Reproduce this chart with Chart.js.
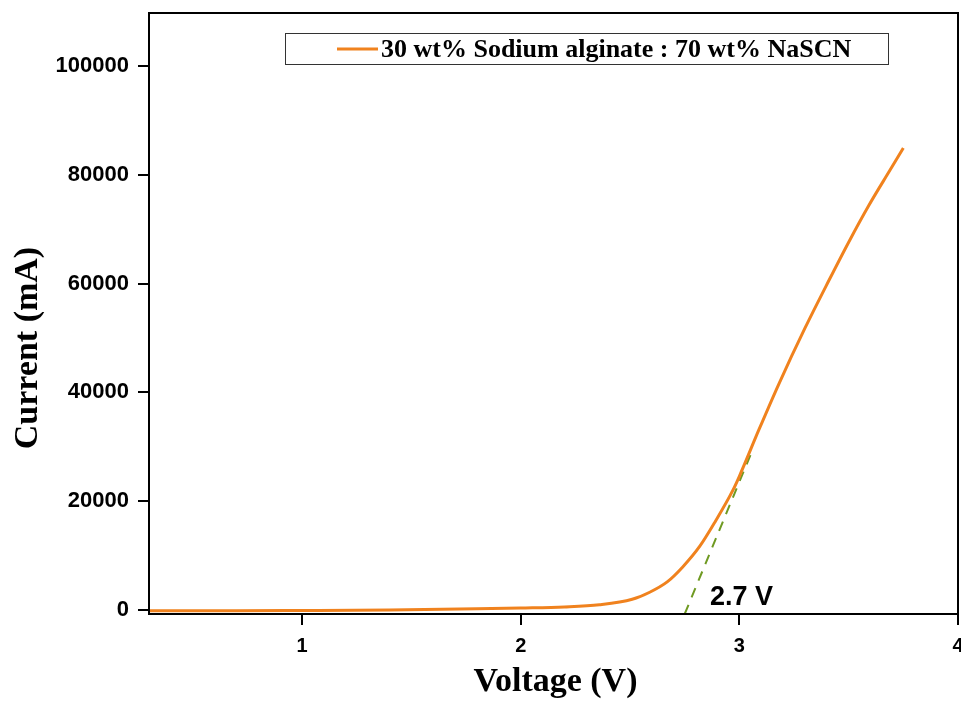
<!DOCTYPE html>
<html>
<head>
<meta charset="utf-8">
<script src="https://cdn.jsdelivr.net/npm/chart.js@4/dist/chart.umd.min.js"></script>
<style>
  html, body { margin: 0; padding: 0; background: #fff; }
</style>
</head>
<body>
<canvas id="chart" width="961" height="710"></canvas>
<script>
// values
const voltage = [0.3, 0.7, 1.0, 1.4, 1.8, 2.0, 2.2, 2.36, 2.51, 2.59, 2.67, 2.74, 2.82, 2.89, 2.97, 3.0, 3.09, 3.18, 3.3, 3.41, 3.5, 3.59, 3.69, 3.75];
const current = [-100, -100, -50, 50, 250, 400, 600, 1000, 2000, 3300, 5200, 7900, 11800, 16300, 22000, 24600, 33200, 41500, 51800, 60600, 67600, 74200, 80900, 84900];

const tangentV = [2.75, 3.06];
const tangentI = [-700, 29400];

const xTicks = [1, 2, 3, 4];
const yTicks = [0, 20000, 40000, 60000, 80000, 100000];

const seriesLabel = '30 wt% Sodium alginate : 70 wt% NaSCN';
const onsetLabel = '2.7 V';

const ORANGE = '#f0821e';
const GREEN = '#6f9a22';
const SANS = "'Liberation Sans', Arial, sans-serif";
const SERIF = "'Liberation Serif', 'Times New Roman', serif";

const toPoints = (xs, ys) => xs.map((x, i) => ({ x: x, y: ys[i] }));

// frame, legend box, axis titles, onset label
const decorations = {
    id: 'decorations',
    afterDraw(chart) {
        const ctx = chart.ctx;
        const area = chart.chartArea;
        ctx.save();

        ctx.strokeStyle = '#000';
        ctx.lineWidth = 2;
        ctx.strokeRect(area.left, area.top, area.right - area.left, area.bottom - area.top);

        // legend
        ctx.lineWidth = 1;
        ctx.strokeStyle = '#333';
        ctx.strokeRect(285.5, 33.5, 603, 31);
        ctx.strokeStyle = ORANGE;
        ctx.lineWidth = 3;
        ctx.beginPath();
        ctx.moveTo(337, 49);
        ctx.lineTo(378, 49);
        ctx.stroke();
        ctx.fillStyle = '#000';
        ctx.font = 'bold 26px ' + SERIF;
        ctx.textAlign = 'left';
        ctx.textBaseline = 'middle';
        ctx.fillText(seriesLabel, 381, 50);

        // onset label
        ctx.font = 'bold 27px ' + SANS;
        ctx.textBaseline = 'alphabetic';
        ctx.fillText(onsetLabel, 710, 605);

        // axis titles
        ctx.font = 'bold 34px ' + SERIF;
        ctx.textAlign = 'center';
        ctx.fillText('Voltage (V)', (area.left + area.right) / 2 + 2, 691);
        ctx.translate(28, 348);
        ctx.rotate(-Math.PI / 2);
        ctx.textBaseline = 'middle';
        ctx.fillText('Current (mA)', 0, 0);

        ctx.restore();
    }
};

const ctx = document.getElementById('chart');

new Chart(ctx, {
    type: 'line',
    data: {
        datasets: [
            {
                label: seriesLabel,
                data: toPoints(voltage, current),
                borderColor: ORANGE,
                borderWidth: 3,
                pointRadius: 0,
                cubicInterpolationMode: 'monotone',
                fill: false
            },
            {
                label: 'tangent',
                data: toPoints(tangentV, tangentI),
                borderColor: GREEN,
                borderWidth: 2,
                borderDash: [10, 8],
                pointRadius: 0,
                fill: false
            }
        ]
    },
    options: {
        responsive: false,
        animation: false,
        layout: {
            padding: { top: 13, right: 3, left: 0, bottom: 0 }
        },
        plugins: {
            legend: { display: false },
            tooltip: { enabled: false }
        },
        scales: {
            x: {
                type: 'linear',
                min: 0.3,
                max: 4,
                afterBuildTicks: (scale) => {
                    scale.ticks = xTicks.map(v => ({ value: v }));
                },
                afterFit: (scale) => {
                    scale.height = 96;
                    scale.paddingLeft = 0;
                    scale.paddingRight = 0;
                },
                border: { display: true, color: '#000', width: 2 },
                grid: {
                    drawOnChartArea: false,
                    drawTicks: true,
                    tickLength: 11,
                    color: '#000',
                    lineWidth: 2
                },
                ticks: {
                    color: '#000',
                    padding: 9,
                    maxRotation: 0,
                    callback: (v) => String(v),
                    font: { family: SANS, size: 20, weight: 'bold' }
                }
            },
            y: {
                type: 'linear',
                min: -700,
                max: 109700,
                afterBuildTicks: (scale) => {
                    scale.ticks = yTicks.map(v => ({ value: v }));
                },
                afterFit: (scale) => {
                    scale.width = 149;
                    scale.paddingTop = 0;
                    scale.paddingBottom = 0;
                },
                border: { display: true, color: '#000', width: 2 },
                grid: {
                    drawOnChartArea: false,
                    drawTicks: true,
                    tickLength: 11,
                    color: '#000',
                    lineWidth: 2
                },
                ticks: {
                    color: '#000',
                    padding: 9,
                    callback: (v) => String(v),
                    font: { family: SANS, size: 22, weight: 'bold' }
                }
            }
        }
    },
    plugins: [decorations]
});
</script>
</body>
</html>
